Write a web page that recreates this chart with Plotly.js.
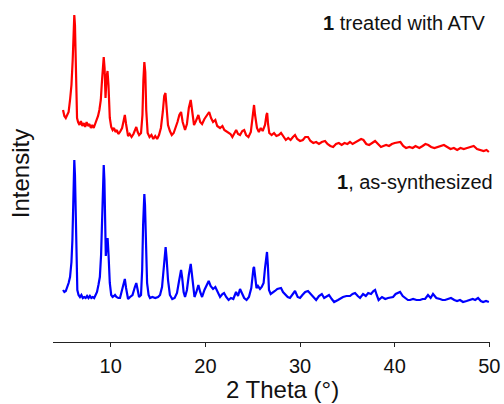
<!DOCTYPE html>
<html>
<head>
<meta charset="utf-8">
<script src="https://cdn.plot.ly/plotly-3.0.1.min.js"></script>
<style>html,body{margin:0;padding:0;background:#fff;}#chart{width:504px;height:404px;}</style>
</head>
<body>
<div id="chart"></div>
<script>
// 2 Theta values (degrees) and relative intensities
const treatedTheta = [4.96,5.10,5.25,5.40,5.55,5.70,5.85,5.98,6.08,6.15,6.22,6.33,6.44,6.55,6.70,6.85,7.00,7.15,7.30,7.45,7.60,7.75,7.90,8.05,8.20,8.35,8.50,8.66,8.80,8.95,9.08,9.18,9.26,9.35,9.45,9.55,9.66,9.76,9.90,10.05,10.20,10.35,10.50,10.65,10.80,10.98,11.20,11.38,11.49,11.62,11.83,12.00,12.20,12.40,12.58,12.70,12.85,13.00,13.20,13.35,13.45,13.55,13.65,13.75,13.90,14.10,14.30,14.50,14.70,14.90,15.10,15.30,15.50,15.65,15.78,15.90,16.05,16.25,16.45,16.65,16.85,17.05,17.25,17.43,17.60,17.85,18.05,18.25,18.45,18.60,18.80,19.00,19.26,19.45,19.65,19.90,20.15,20.40,20.60,20.81,21.05,21.25,21.55,21.80,22.00,22.40,22.65,22.85,23.05,23.25,23.45,23.66,23.90,24.10,24.30,24.55,24.80,24.95,25.05,25.14,25.25,25.45,25.65,25.85,26.05,26.30,26.45,26.53,26.62,26.75,27.00,27.25,27.50,27.75,27.99,28.25,28.50,28.75,29.00,29.25,29.47,29.70,30.00,30.30,30.55,30.84,31.10,31.40,31.70,32.00,32.30,32.64,32.90,33.20,33.50,33.80,34.10,34.40,34.70,35.00,35.28,35.55,35.90,36.20,36.45,36.70,37.00,37.30,37.60,37.93,38.24,38.55,38.80,39.10,39.40,39.70,40.00,40.35,40.60,40.90,41.20,41.55,41.90,42.20,42.60,42.95,43.25,43.55,43.85,44.20,44.55,44.85,45.20,45.55,45.90,46.25,46.60,46.95,47.30,47.65,48.00,48.35,48.70,49.05,49.40,49.70,49.95];
const treatedIntensity = [50,44,42,46,48,60,75,100,130,145,135,80,42,38,35,39,34,37,33,38,34,36,32,35,32,36,40,44,50,60,80,98,103,92,62,82,89,75,42,33,30,32,28,30,26,28,32,40,45,36,24,26,23,26,31,33,28,25,27,45,80,98,88,50,27,23,25,21,24,21,25,32,48,64,67,55,35,29,25,27,32,38,45,48,38,30,36,52,60,48,35,39,45,38,36,41,45,48,42,38,40,34,32,34,30,28,26,23,27,30,26,25,29,30,25,23,28,42,52,55,45,32,28,32,29,35,45,47,36,27,25,27,24,25,27,23,20,22,20,23,25,21,19,20,23,23,19,17,18,16,18,19,16,14,13,16,17,15,17,16,18,16,18,20,21,20,16,15,17,19,16,13,14,15,14,16,17,18,18,14,12,13,12,14,12,14,16,15,13,12,13,14,15,13,11,12,10,12,11,12,13,14,11,10,9,10,8];

const synthTheta = [4.96,5.10,5.25,5.38,5.55,5.70,5.85,5.95,6.03,6.10,6.15,6.22,6.30,6.38,6.47,6.60,6.75,6.90,7.05,7.20,7.35,7.50,7.65,7.80,7.95,8.10,8.25,8.40,8.55,8.70,8.85,8.98,9.08,9.17,9.26,9.33,9.42,9.48,9.57,9.67,9.77,9.90,10.05,10.20,10.35,10.45,10.60,10.80,10.98,11.19,11.35,11.49,11.62,11.83,12.04,12.30,12.55,12.70,12.85,12.99,13.20,13.32,13.42,13.50,13.55,13.62,13.72,13.84,14.00,14.15,14.40,14.70,15.00,15.21,15.42,15.60,15.72,15.80,15.90,16.05,16.25,16.50,16.75,17.00,17.20,17.35,17.43,17.55,17.70,17.85,18.05,18.25,18.38,18.45,18.55,18.70,18.85,19.05,19.26,19.45,19.65,19.90,20.15,20.35,20.55,20.81,21.05,21.25,21.55,21.80,21.97,22.20,22.45,22.70,22.95,23.24,23.45,23.66,23.90,24.10,24.35,24.60,24.85,24.98,25.08,25.14,25.25,25.40,25.55,25.77,25.95,26.15,26.30,26.42,26.51,26.60,26.72,26.90,27.10,27.35,27.60,27.99,28.20,28.41,28.70,28.94,29.20,29.47,29.75,30.00,30.25,30.55,30.84,31.10,31.40,31.70,32.00,32.30,32.55,32.75,33.06,33.35,33.60,34.01,34.30,34.54,34.90,35.28,35.55,35.81,36.10,36.34,36.66,36.95,37.20,37.50,37.75,37.93,38.10,38.30,38.66,39.00,39.30,39.60,39.83,40.10,40.35,40.57,40.85,41.09,41.40,41.62,41.95,42.30,42.68,42.95,43.21,43.52,43.80,44.05,44.40,44.79,45.05,45.32,45.65,45.95,46.30,46.59,46.90,47.22,47.60,47.96,48.25,48.50,48.81,49.10,49.34,49.65,49.95];
const synthIntensity = [20,18,19,22,27,33,48,70,110,140,150,135,90,45,20,15,13,15,12,13,12,14,12,14,12,13,12,15,18,25,33,55,93,130,145,130,75,54,65,72,55,27,15,13,14,15,13,12,12,20,27,31,22,11,13,15,23,27,20,13,15,40,85,110,116,105,60,27,15,12,13,12,13,15,23,45,60,63,52,30,15,11,12,17,28,38,40,32,18,13,20,35,44,46,38,22,13,18,25,18,13,20,26,29,24,21,23,19,13,16,17,13,10,12,11,18,14,21,15,12,10,13,22,35,42,43,34,22,24,21,23,27,42,55,58,45,20,16,17,19,21,22,18,16,13,12,15,19,13,12,15,18,19,16,13,10,14,16,12,13,15,11,8,10,12,13,14,14,16,17,14,12,16,14,17,16,19,20,15,10,13,11,12,13,13,16,17,18,14,12,10,10,11,10,10,11,11,15,12,16,12,11,10,10,11,12,10,9,10,8,9,10,11,10,12,9,8,9,8];

const xTickVals = [10, 20, 30, 40, 50];
const seriesLabels = ["<b>1</b> treated with ATV", "<b>1</b>, as-synthesized"];
const xTitle = "2 Theta (°)";
const yTitle = "Intensity";

// vertical stacking offsets for the two patterns
const treatedOffset = 182;
const synthOffset = 32;

const FONT = "Liberation Sans, Arial, sans-serif";

const traces = [
  {x: treatedTheta, y: treatedIntensity.map(v => v + treatedOffset), type: "scatter", mode: "lines",
   line: {color: "#ff0000", width: 2.2}, hoverinfo: "x+y", showlegend: false},
  {x: synthTheta, y: synthIntensity.map(v => v + synthOffset), type: "scatter", mode: "lines",
   line: {color: "#0000ff", width: 2.2}, hoverinfo: "x+y", showlegend: false}
];

const layout = {
  width: 504, height: 404,
  margin: {l: 53, r: 14, t: 5, b: 62},
  paper_bgcolor: "#fff", plot_bgcolor: "#fff",
  font: {family: FONT, color: "#111"},
  xaxis: {
    range: [3.9, 50.07], tickvals: xTickVals, ticktext: xTickVals.map(String),
    ticks: "outside", ticklen: 4, tickcolor: "#222", tickwidth: 1,
    ticklabelstandoff: 2,
    showline: true, linecolor: "#222", linewidth: 1, mirror: false,
    showgrid: false, zeroline: false,
    tickfont: {family: FONT, size: 20, color: "#111"}
  },
  yaxis: {range: [0, 337], visible: false, fixedrange: true},
  annotations: [
    {text: seriesLabels[0], xref: "paper", yref: "paper", x: 0.9954, y: 0.9466,
     xanchor: "right", yanchor: "middle", showarrow: false, font: {family: FONT, size: 20, color: "#111"}},
    {text: seriesLabels[1], xref: "paper", yref: "paper", x: 1.0114, y: 0.4748,
     xanchor: "right", yanchor: "middle", showarrow: false, font: {family: FONT, size: 20, color: "#111"}},
    {text: yTitle, xref: "paper", yref: "paper", x: -0.075, y: 0.4985, textangle: -90,
     xanchor: "center", yanchor: "middle", showarrow: false, font: {family: FONT, size: 24, color: "#111"}},
    {text: xTitle, xref: "paper", yref: "paper", x: 0.526, y: -0.1424,
     xanchor: "center", yanchor: "middle", showarrow: false, font: {family: FONT, size: 24, color: "#111"}}
  ]
};

Plotly.newPlot("chart", traces, layout, {staticPlot: true, displayModeBar: false});
</script>
</body>
</html>
